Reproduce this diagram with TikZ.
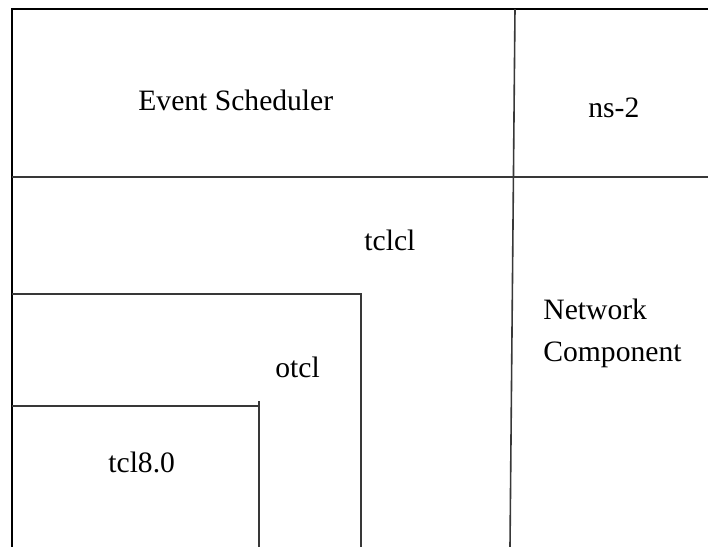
\documentclass[tikz,border=0pt]{standalone}
\usepackage{fontspec}
\setmainfont{Liberation Serif}
\begin{document}
\begin{tikzpicture}[x=0.5pt,y=-0.5pt,
  frame/.style={line width=1.3pt,draw=black},
  divider/.style={line width=0.8pt,draw=black!78},
  label/.style={inner sep=0pt,anchor=base west,font=\fontsize{14.8pt}{21pt}\selectfont}]
\useasboundingbox[fill=white] (0,0) rectangle (708,547);

% corner points of the layers
\coordinate (tl) at (12,9);
\coordinate (tr) at (708,9);
\coordinate (bl) at (12,547);
\coordinate (ml) at (12,177);
\coordinate (mr) at (708,177);
\coordinate (vt) at (515,9);
\coordinate (vb) at (510,547);
\coordinate (ol) at (12,294);
\coordinate (oc) at (361,294);
\coordinate (ob) at (361,547);
\coordinate (cl) at (12,406);
\coordinate (cc) at (259,406);
\coordinate (ct) at (259,401);
\coordinate (cb) at (259,547);

% outer frame
\draw[frame] (bl) -- (tl) -- (tr);

% layer boundaries
\draw[divider] (ml) -- (mr);
\draw[divider] (vt) -- (vb);
\draw[divider] (ol) -- (oc) -- (ob);
\draw[divider] (cl) -- (cc);
\draw[divider] (ct) -- (cb);

% layer names
\node[label] (sched) at (138,110) {Event Scheduler};
\node[label] (ns) at (588,117) {ns-2};
\node[label] (tclcl) at (364,250) {tclcl};
\node[label] (net) at (543,319) {Network};
\node[label] (comp) at (543,361) {Component};
\node[label] (otcl) at (275,377) {otcl};
\node[label] (tcl) at (108,472) {tcl8.0};
\end{tikzpicture}
\end{document}
